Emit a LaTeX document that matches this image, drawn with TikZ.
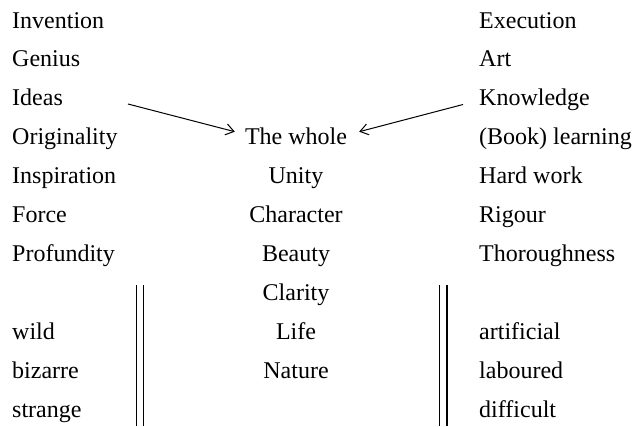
\documentclass[tikz,border=0pt]{standalone}
\usepackage{fontspec}
\setmainfont{Liberation Serif}
\usetikzlibrary{arrows.meta,calc}
\begin{document}
\begin{tikzpicture}[x=1bp,y=-1bp,
  lbl/.style={inner sep=0pt,font=\fontsize{24bp}{28bp}\selectfont},
  lcol/.style={lbl,anchor=base west},
  ccol/.style={lbl,anchor=base},
  rule/.style={line width=1.1bp},
  arr/.style={line width=1bp,-{Straight Barb[length=8bp,width=11bp]}}]
\useasboundingbox (0,0) rectangle (632,426);
% left column
\node[lcol] (inv) at (12,28) {Invention};
\node[lcol] (gen) at (12,66.9) {Genius};
\node[lcol] (ideas) at (12,105.8) {Ideas};
\node[lcol] (orig) at (12,144.7) {Originality};
\node[lcol] (insp) at (12,183.6) {Inspiration};
\node[lcol] (force) at (12,222.5) {Force};
\node[lcol] (prof) at (12,261.4) {Profundity};
\node[lcol] (wild) at (12,339.2) {wild};
\node[lcol] (biz) at (12,378.1) {bizarre};
\node[lcol] (str) at (12,417) {strange};
% centre column
\node[ccol] (whole) at (296,144.7) {The whole};
\node[ccol] (unity) at (296,183.6) {Unity};
\node[ccol] (char) at (296,222.5) {Character};
\node[ccol] (beauty) at (296,261.4) {Beauty};
\node[ccol] (clar) at (296,300.3) {Clarity};
\node[ccol] (life) at (296,339.2) {Life};
\node[ccol] (nat) at (296,378.1) {Nature};
% right column
\node[lcol] (exe) at (479,28) {Execution};
\node[lcol] (art) at (479,66.9) {Art};
\node[lcol] (know) at (479,105.8) {Knowledge};
\node[lcol] (book) at (479,144.7) {(Book) learning};
\node[lcol] (hard) at (479,183.6) {Hard work};
\node[lcol] (rig) at (479,222.5) {Rigour};
\node[lcol] (thor) at (479,261.4) {Thoroughness};
\node[lcol] (artif) at (479,339.2) {artificial};
\node[lcol] (lab) at (479,378.1) {laboured};
\node[lcol] (diff) at (479,417) {difficult};
% arrows
\coordinate (la) at (128,104);
\coordinate (ra) at (463,104.5);
\draw[arr] (la) -- ($(whole.base west)+(-10,-13)$);
\draw[arr] (ra) -- ($(whole.base east)+(12,-13)$);
% double rules
\coordinate (l1t) at (136.3,285); \coordinate (l1b) at (136.3,426);
\coordinate (l2t) at (143.6,285); \coordinate (l2b) at (143.6,426);
\coordinate (r1t) at (439.5,285); \coordinate (r1b) at (439.5,426);
\coordinate (r2t) at (447,285); \coordinate (r2b) at (447,426);
\draw[rule] (l1t) -- (l1b);
\draw[rule] (l2t) -- (l2b);
\draw[rule] (r1t) -- (r1b);
\draw[rule] (r2t) -- (r2b);
\end{tikzpicture}
\end{document}
